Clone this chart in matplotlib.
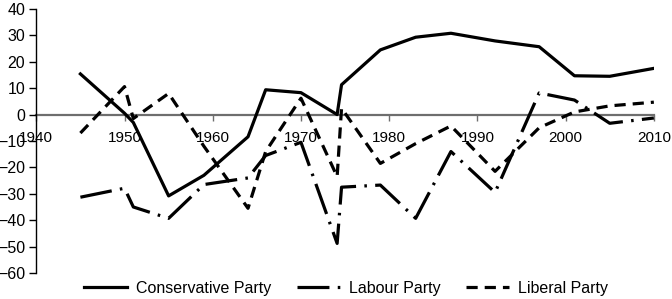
import matplotlib
matplotlib.use("Agg")
import matplotlib.pyplot as plt

# Election years (the two 1974 elections are split a bit apart)
years = [1945, 1950, 1951, 1955, 1959, 1964, 1966, 1970, 1974.1, 1974.6,
         1979, 1983, 1987, 1992, 1997, 2001, 2005, 2010]

conservative = [15.4, 0.5, -3, -30.8, -23, -8.4, 9.4, 8.3, 0, 11.3,
                24.5, 29.3, 30.8, 27.9, 25.7, 14.7, 14.5, 17.5]
labour = [-31.3, -27.9, -35, -39.3, -26.5, -24, -15.5, -10.5, -48.8, -27.5,
          -26.7, -39.3, -14, -29.5, 8.2, 5.5, -3.3, -1.3]
liberal = [-7, 10.6, -1.5, 8, -12, -35.5, -14, 6.2, -23.5, 2.4,
           -18.5, -11, -4.3, -21.5, -5, 1, 3.3, 4.7]

x_ticks = [1940, 1950, 1960, 1970, 1980, 1990, 2000, 2010]
y_ticks = [40, 30, 20, 10, 0, -10, -20, -30, -40, -50, -60]

plt.rcParams['font.family'] = ['Liberation Sans', 'DejaVu Sans']

fig = plt.figure(figsize=(6.72, 2.99), dpi=100)
ax = fig.add_axes([0.054, 0.087, 0.919, 0.883])

lw = 2.3
ax.plot(years, conservative, color='black', lw=lw, label='Conservative Party')
ax.plot(years, labour, color='black', lw=lw, linestyle=(0, (10, 2.6, 0.8, 2.6)),
        label='Labour Party')
ax.plot(years, liberal, color='black', lw=lw, linestyle=(0, (3.5, 2.2)),
        label='Liberal Party')

ax.set_xlim(1940, 2010)
ax.set_ylim(-60, 40)
ax.set_xticks(x_ticks)
ax.set_yticks(y_ticks)

# axis through zero, only left spine otherwise
ax.spines['top'].set_visible(False)
ax.spines['right'].set_visible(False)
ax.spines['bottom'].set_position(('data', 0))
ax.spines['bottom'].set_color('#6e6e6e')
ax.spines['bottom'].set_linewidth(1.6)
ax.spines['bottom'].set_zorder(1)
ax.spines['left'].set_color('black')
ax.spines['left'].set_linewidth(1.0)

ax.tick_params(axis='y', length=5, width=1, color='black', labelsize=11.5, pad=3)
ax.tick_params(axis='x', length=4, width=1, color='#6e6e6e', labelsize=11, pad=8)

fig.legend(loc='center', bbox_to_anchor=(0.515, 0.036), ncol=3, frameon=False,
           fontsize=11.5, handlelength=2.7, handletextpad=0.55, columnspacing=1.6)

fig.savefig('out.png', dpi=100)
